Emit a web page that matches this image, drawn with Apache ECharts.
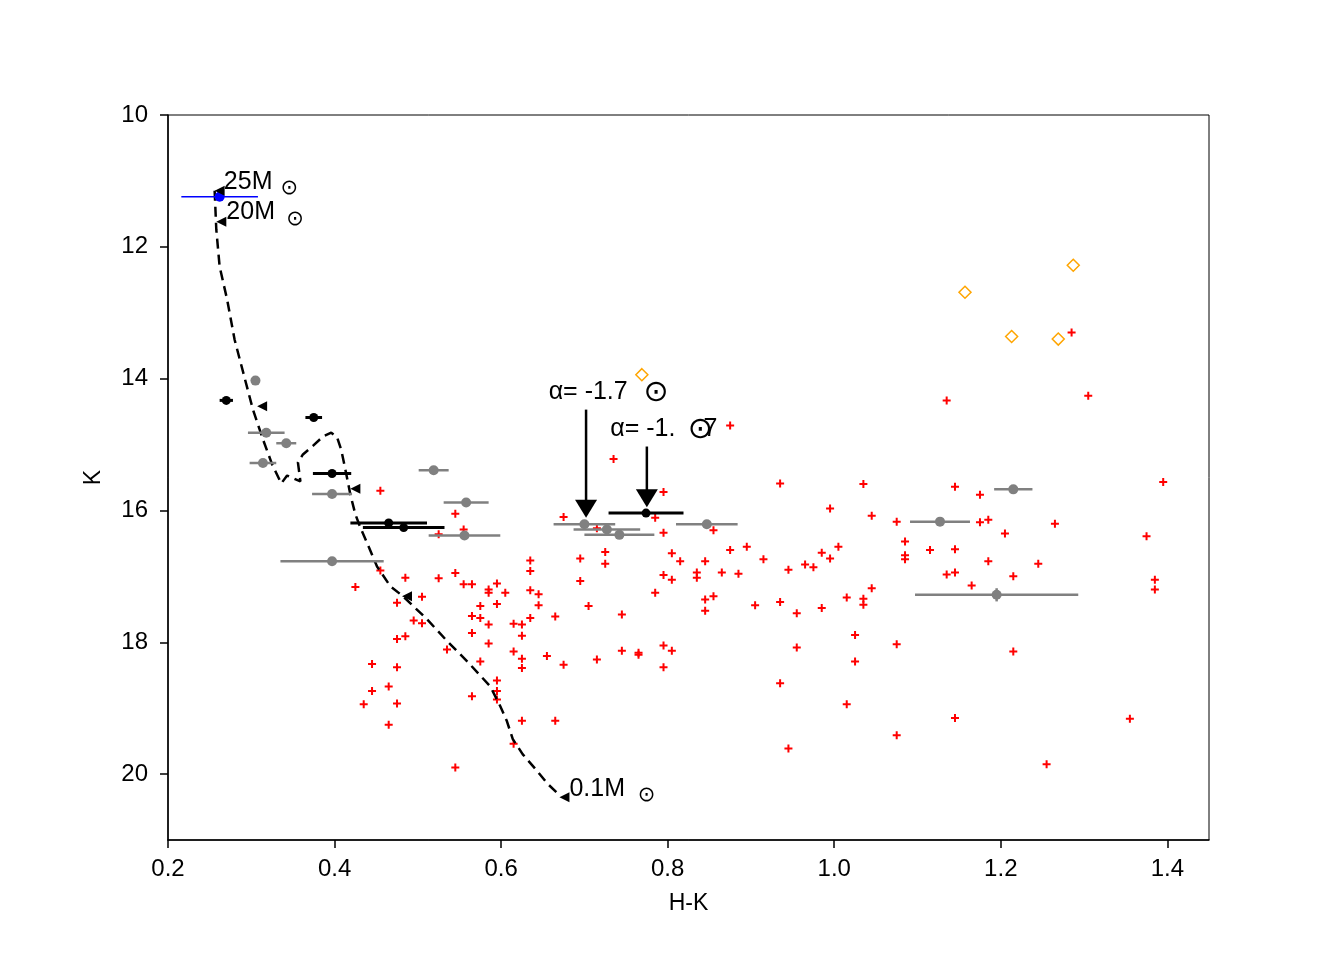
<!DOCTYPE html>
<html><head><meta charset="utf-8">
<script src="https://cdn.jsdelivr.net/npm/echarts@6/dist/echarts.min.js"></script>
<style>html,body{margin:0;padding:0;background:#fff}#c{width:1344px;height:960px}</style>
</head><body><div id="c"></div>
<script>
const xTicks = [0.2, 0.4, 0.6, 0.8, 1.0, 1.2, 1.4];
const yTicks = [10, 12, 14, 16, 18, 20];

const fieldStars = [
[0.455,15.70],[0.545,16.05],[0.555,16.29],[0.525,16.36],[0.455,16.91],[0.485,17.02],[0.425,17.16],[0.525,17.03],
[0.545,16.95],[0.555,17.12],[0.565,17.12],[0.585,17.20],[0.585,17.25],[0.595,17.11],[0.605,17.25],[0.505,17.31],
[0.475,17.40],[0.575,17.45],[0.595,17.42],[0.565,17.60],[0.575,17.63],[0.495,17.67],[0.505,17.71],[0.585,17.73],
[0.615,17.72],[0.565,17.86],[0.485,17.91],[0.475,17.95],[0.585,18.02],[0.535,18.11],[0.615,18.14],[0.575,18.29],
[0.445,18.33],[0.475,18.38],[0.595,18.58],[0.595,18.74],[0.465,18.67],[0.445,18.74],[0.565,18.82],[0.595,18.87],
[0.435,18.94],[0.475,18.93],[0.465,19.25],[0.615,19.54],[0.545,19.90],[0.635,16.76],[0.635,16.92],[0.695,16.73],
[0.725,16.63],[0.725,16.81],[0.695,17.07],[0.635,17.21],[0.645,17.27],[0.645,17.44],[0.635,17.63],[0.665,17.61],
[0.705,17.45],[0.745,17.58],[0.625,17.73],[0.625,17.90],[0.625,18.25],[0.625,18.39],[0.655,18.21],[0.675,18.34],
[0.715,18.26],[0.745,18.13],[0.765,18.16],[0.765,18.19],[0.795,18.05],[0.805,18.13],[0.795,18.38],[0.785,17.25],
[0.795,16.98],[0.805,17.05],[0.805,16.65],[0.815,16.77],[0.835,16.94],[0.835,17.02],[0.845,16.77],[0.845,17.35],
[0.855,17.30],[0.845,17.52],[0.625,19.19],[0.665,19.19],[0.735,15.22],[0.795,15.72],[0.675,16.10],[0.785,16.11],
[0.715,16.27],[0.795,16.34],[0.855,16.30],[0.875,14.71],[1.135,14.33],[0.935,15.59],[1.035,15.60],[0.995,15.97],
[1.045,16.08],[1.075,16.17],[1.145,15.64],[0.875,16.60],[0.895,16.55],[0.915,16.74],[0.865,16.94],[0.885,16.96],
[0.945,16.90],[0.965,16.82],[0.975,16.86],[0.985,16.64],[0.995,16.73],[1.005,16.55],[1.085,16.47],[1.085,16.68],
[1.085,16.74],[1.115,16.60],[1.145,16.59],[1.135,16.97],[1.145,16.94],[0.905,17.44],[0.935,17.39],[0.955,17.56],
[0.985,17.48],[1.015,17.32],[1.035,17.34],[1.035,17.43],[1.045,17.18],[1.025,17.89],[1.075,18.03],[0.955,18.08],
[1.025,18.29],[0.935,18.62],[1.015,18.94],[1.075,19.41],[0.945,19.61],[1.175,15.76],[1.395,15.57],[1.175,16.18],
[1.185,16.14],[1.265,16.20],[1.205,16.35],[1.375,16.39],[1.185,16.77],[1.245,16.81],[1.215,17.00],[1.165,17.14],
[1.385,17.05],[1.385,17.20],[1.215,18.14],[1.145,19.15],[1.355,19.16],[1.255,19.85],[1.285,13.30],[1.305,14.26]
];

// [H-K, K, H-K error, K error]
const grayStars = [
[0.305,14.03,0.004,0],[0.318,14.82,0.022,0],[0.342,14.98,0.012,0],[0.314,15.28,0.016,0],
[0.397,15.75,0.024,0],[0.519,15.39,0.018,0],[0.558,15.88,0.027,0],[0.556,16.38,0.043,0],
[0.397,16.77,0.062,0],[0.700,16.21,0.037,0],[0.727,16.29,0.040,0],[0.742,16.37,0.042,0],
[0.847,16.21,0.037,0],[1.215,15.68,0.023,0],[1.127,16.17,0.036,0],[1.195,17.28,0.098,0.1]
];
const blackStars = [
[0.270,14.33,0.008,0],[0.375,14.59,0.010,0],[0.397,15.44,0.023,0],
[0.465,16.19,0.046,0],[0.483,16.26,0.049,0],[0.774,16.04,0.045,0]
];
const blueStars = [[0.262,11.24,0.046,0]];
const orangeStars = [[0.769,13.94],[1.157,12.69],[1.287,12.28],[1.213,13.36],[1.269,13.40]];

const isochrone = [
[0.256,11.15],[0.258,11.74],[0.262,12.30],[0.271,12.80],[0.280,13.41],[0.291,13.94],[0.302,14.47],[0.314,14.92],
[0.325,15.30],[0.336,15.59],[0.343,15.47],[0.359,15.56],[0.356,15.27],[0.362,15.15],[0.374,15.02],[0.386,14.88],
[0.396,14.82],[0.403,14.89],[0.408,15.08],[0.413,15.38],[0.419,15.76],[0.425,16.06],[0.431,16.26],[0.440,16.52],
[0.451,16.85],[0.467,17.15],[0.482,17.30],[0.511,17.65],[0.535,17.98],[0.560,18.30],[0.587,18.67],[0.599,18.97],
[0.607,19.20],[0.614,19.47],[0.626,19.70],[0.641,19.92],[0.656,20.15],[0.671,20.33]
];
const massMarks = [[0.262,11.15],[0.264,11.62],[0.313,14.42],[0.425,15.67],[0.487,17.30],[0.676,20.35]];

// [x, y, text, fontSize] anchored at the text's left edge
const textLabels = [
[0.267,11.02,'25M',25],[0.335,11.11,'⊙',21],
[0.270,11.48,'20M',25],[0.342,11.58,'⊙',21],
[0.682,20.23,'0.1M',25],[0.764,20.32,'⊙',21],
[0.657,14.21,'α= -1.7',25],[0.771,14.21,'⊙',30],
[0.731,14.77,'α= -1.',25],[0.824,14.77,'⊙',30],[0.843,14.77,'7',25]
];
// [x, K start, K tip]
const alphaArrows = [[0.702,14.47,16.11],[0.775,15.03,15.95]];

const FONT = 'Liberation Sans, Arial, DejaVu Sans, sans-serif';

function errRender(color, lw, r) {
  return function (params, api) {
    const x = api.value(0), y = api.value(1), ex = api.value(2), ey = api.value(3);
    const a = api.coord([x - ex, y]), b = api.coord([x + ex, y]), c = api.coord([x, y]);
    const ch = [{type:'line', shape:{x1:a[0],y1:a[1],x2:b[0],y2:b[1]}, style:{stroke:color,lineWidth:lw}}];
    if (ey > 0) {
      const u = api.coord([x, y - ey]), d = api.coord([x, y + ey]);
      ch.push({type:'line', shape:{x1:u[0],y1:u[1],x2:d[0],y2:d[1]}, style:{stroke:color,lineWidth:lw}});
    }
    ch.push({type:'circle', shape:{cx:c[0],cy:c[1],r:r}, style:{fill:color}});
    return {type:'group', children:ch};
  };
}
function arrowRender(params, api) {
  const x = api.value(0), y0 = api.value(1), y1 = api.value(2);
  const s = api.coord([x, y0]), t = api.coord([x, y1]);
  const hw = 11, hh = 18;
  return {type:'group', children:[
    {type:'line', shape:{x1:s[0],y1:s[1],x2:t[0],y2:t[1]-hh+2}, style:{stroke:'#000',lineWidth:2.5}},
    {type:'polygon', shape:{points:[[t[0]-hw,t[1]-hh],[t[0]+hw,t[1]-hh],[t[0],t[1]]]}, style:{fill:'#000'}}
  ]};
}

const chart = echarts.init(document.getElementById('c'));
chart.setOption({
  animation: false,
  backgroundColor: '#fff',
  grid: {left:168, top:115, right:135, bottom:120, show:true, borderColor:'#000', borderWidth:1},
  xAxis: {
    type:'value', min:0.2, max:1.45, interval:0.2,
    name:'H-K', nameLocation:'middle', nameGap:52,
    nameTextStyle:{fontFamily:FONT, fontSize:23, color:'#000'},
    axisLine:{show:true, onZero:false, lineStyle:{color:'#000', width:1.5}},
    axisTick:{show:true, length:8, customValues:xTicks, lineStyle:{color:'#000', width:1.5}},
    axisLabel:{customValues:xTicks, fontFamily:FONT, fontSize:24, color:'#000', margin:17,
      formatter:v => v.toFixed(1)},
    splitLine:{show:false}
  },
  yAxis: {
    type:'value', min:10, max:21, interval:2, inverse:true,
    name:'K', nameLocation:'middle', nameGap:63,
    nameTextStyle:{fontFamily:FONT, fontSize:23, color:'#000'},
    axisLine:{show:true, onZero:false, lineStyle:{color:'#000', width:1.5}},
    axisTick:{show:true, length:8, customValues:yTicks, lineStyle:{color:'#000', width:1.5}},
    axisLabel:{customValues:yTicks, fontFamily:FONT, fontSize:24, color:'#000', margin:20},
    splitLine:{show:false}
  },
  series: [
    {type:'line', data:isochrone, showSymbol:false, silent:true, z:3,
     lineStyle:{color:'#000', width:2.5, type:[10,6]}},
    {type:'scatter', data:fieldStars, silent:true, z:2,
     symbol:'path://M3,0H5V3H8V5H5V8H3V5H0V3H3Z', symbolSize:8, itemStyle:{color:'#ff0000', opacity:1}},
    {type:'scatter', data:orangeStars, silent:true, z:2, symbol:'diamond', symbolSize:12,
     itemStyle:{color:'#fff', borderColor:'#ffa500', borderWidth:1.5, opacity:1}},
    {type:'custom', data:grayStars, renderItem:errRender('#808080',2.5,5), encode:{x:0,y:1}, silent:true, z:4},
    {type:'custom', data:blackStars, renderItem:errRender('#000',3,4.5), encode:{x:0,y:1}, silent:true, z:5},
    {type:'custom', data:blueStars, renderItem:errRender('#0000ff',1.5,5), encode:{x:0,y:1}, silent:true, z:5},
    {type:'scatter', data:massMarks, silent:true, z:6, symbol:'triangle', symbolRotate:90, symbolSize:10,
     itemStyle:{color:'#000', opacity:1}},
    {type:'custom', data:alphaArrows, renderItem:arrowRender, encode:{x:0,y:[1,2]}, silent:true, z:6},
    {type:'scatter', silent:true, z:7, symbolSize:0.1, itemStyle:{color:'#fff', opacity:1},
     data:textLabels.map(l => ({value:[l[0], l[1]],
       label:{show:true, position:'right', distance:0, formatter:l[2], fontSize:l[3],
              fontFamily:FONT, color:'#000', opacity:1}}))}
  ]
});
</script>
</body></html>
